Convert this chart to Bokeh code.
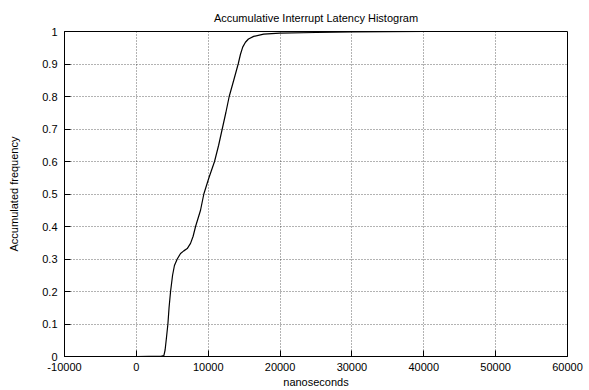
from bokeh.plotting import figure
from bokeh.models import Range1d, FixedTicker
from bokeh.embed import file_html
from bokeh.resources import INLINE

# data (nanoseconds, accumulated frequency)
latency_ns = [-10000, 0, 3500, 3830, 4000, 4200, 4390, 4550, 4760, 5040, 5300,
              5690, 6150, 6600, 7080, 7540, 7900, 8240, 8930, 9390, 10100,
              10880, 11450, 11950, 12450, 12920, 13550, 14170, 14490, 14800,
              15180, 15600, 16330, 17720, 19950, 25000, 30000, 40000, 57000]
accum_freq = [0.0, 0.0, 0.001, 0.003, 0.02, 0.06, 0.10, 0.15, 0.20, 0.25, 0.28,
              0.30, 0.317, 0.325, 0.332, 0.348, 0.37, 0.40, 0.45, 0.50, 0.55,
              0.60, 0.65, 0.70, 0.75, 0.80, 0.85, 0.90, 0.93, 0.952,
              0.967, 0.977, 0.985, 0.992, 0.995, 0.997, 0.999, 1.0, 1.0]

x_ticks = [-10000, 0, 10000, 20000, 30000, 40000, 50000, 60000]
x_tick_labels = ["-10000", "0", "10000", "20000", "30000", "40000", "50000", "60000"]
y_ticks = [0, 0.1, 0.2, 0.3, 0.4, 0.5, 0.6, 0.7, 0.8, 0.9, 1.0]
y_tick_labels = ["0", "0.1", "0.2", "0.3", "0.4", "0.5", "0.6", "0.7", "0.8", "0.9", "1"]

FONT = "Liberation Sans"

p = figure(width=589, height=390, output_backend="svg", toolbar_location=None,
           x_range=Range1d(-10000, 60000), y_range=Range1d(0, 1),
           title="Accumulative Interrupt Latency Histogram",
           min_border_left=64, min_border_right=22, min_border_top=31,
           min_border_bottom=34)

p.title.align = "center"
p.title.vertical_align = "top"
p.title.text_font = FONT
p.title.text_font_size = "11px"
p.title.text_font_style = "normal"
p.title.text_color = "#000000"
p.title.standoff = 12

p.outline_line_color = "#000000"
p.outline_line_width = 1
p.background_fill_color = "white"
p.border_fill_color = "white"

p.xaxis.ticker = FixedTicker(ticks=x_ticks)
p.xaxis.major_label_overrides = dict(zip(x_ticks, x_tick_labels))
p.yaxis.ticker = FixedTicker(ticks=y_ticks)
p.yaxis.major_label_overrides = dict(zip(y_ticks, y_tick_labels))

for ax in (p.xaxis, p.yaxis):
    ax.axis_line_color = "#000000"
    ax.major_tick_in = 6
    ax.major_tick_out = 0
    ax.minor_tick_in = 0
    ax.minor_tick_out = 0
    ax.major_tick_line_color = "#000000"
    ax.major_label_text_font = FONT
    ax.major_label_text_font_size = "11px"
    ax.major_label_text_color = "#000000"
    ax.axis_label_text_font = FONT
    ax.axis_label_text_font_size = "11px"
    ax.axis_label_text_font_style = "normal"
    ax.axis_label_text_color = "#000000"

p.xaxis.axis_label = "nanoseconds"
p.xaxis.major_label_standoff = 6
p.xaxis.axis_label_standoff = 2
p.yaxis.axis_label = "Accumulated frequency"
p.yaxis.major_label_standoff = 7
p.yaxis.axis_label_standoff = 19

p.grid.grid_line_color = "#000000"
p.grid.grid_line_alpha = 0.6
p.grid.grid_line_dash = "1 2"
p.grid.grid_line_width = 1
p.xgrid.ticker = FixedTicker(ticks=x_ticks)
p.ygrid.ticker = FixedTicker(ticks=y_ticks)

p.line(latency_ns, accum_freq, line_color="#000000", line_width=1.2)

open("out.html", "w").write(file_html(p, INLINE))
